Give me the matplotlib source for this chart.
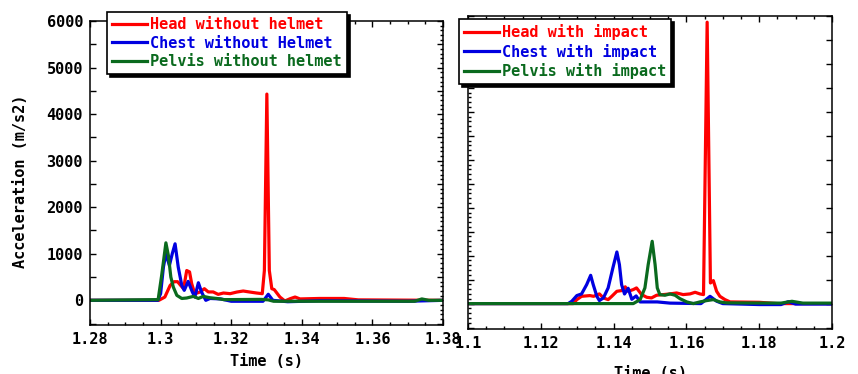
import matplotlib
matplotlib.use('Agg')
import matplotlib.pyplot as plt
from matplotlib.ticker import MultipleLocator, FuncFormatter

plt.rcParams['font.family'] = 'DejaVu Sans Mono'
plt.rcParams['font.weight'] = 'bold'
plt.rcParams['font.size'] = 11

RED = '#FF0000'
BLUE = '#0000E0'
GREEN = '#0A6A1E'

# ---- left panel: without helmet ----
head_wo_t = [1.28, 1.2995, 1.3012, 1.3027, 1.3038, 1.3048, 1.3058, 1.3065, 1.3074, 1.3082,
             1.3088, 1.3097, 1.3112, 1.3124, 1.3135, 1.3149, 1.3163, 1.3178, 1.3197, 1.3216,
             1.3234, 1.3253, 1.3272, 1.3288, 1.3294, 1.3301, 1.3308, 1.3315, 1.3322, 1.3338,
             1.3352, 1.3367, 1.3381, 1.3395, 1.345, 1.352, 1.356, 1.38]
head_wo_v = [0, 0, 70, 320, 400, 400, 310, 250, 640, 610,
             360, 140, 180, 250, 180, 180, 128, 157, 143, 178,
             200, 178, 157, 143, 640, 4430, 640, 250, 230, 71,
             -14, 35, 71, 30, 40, 40, 10, 0]

chest_wo_t = [1.28, 1.2992, 1.3000, 1.3008, 1.3015, 1.3025, 1.3033, 1.3041, 1.3050, 1.3060,
              1.3067, 1.3078, 1.3090, 1.3097, 1.3107, 1.3116, 1.3128, 1.3140, 1.317, 1.320,
              1.329, 1.3305, 1.3318, 1.336, 1.345, 1.37, 1.38]
chest_wo_v = [0, 0, 143, 716, 1000, 750, 1000, 1214, 713, 321,
              214, 407, 178, 71, 378, 178, 0, 40, 30, -20,
              -20, 130, 0, -30, -10, -20, 0]

pelvis_wo_t = [1.28, 1.2993, 1.3003, 1.3015, 1.3022, 1.3029, 1.3036, 1.3046, 1.3060, 1.3074,
               1.3093, 1.3107, 1.3121, 1.3140, 1.3159, 1.318, 1.3285, 1.3305, 1.332, 1.372,
               1.374, 1.376, 1.38]
pelvis_wo_v = [0, 15, 535, 1235, 963, 500, 285, 107, 40, 50,
               85, 40, 85, 55, 40, 15, 20, 10, -20, -20,
               30, 0, 0]

# ---- right panel: with impact ----
head_wi_t = [1.1, 1.1289, 1.1299, 1.1312, 1.1335, 1.1345, 1.1361, 1.1372, 1.1385, 1.1395,
             1.1409, 1.1422, 1.1432, 1.1440, 1.1454, 1.1463, 1.1477, 1.1491, 1.1504, 1.1518,
             1.1537, 1.1555, 1.1573, 1.1591, 1.1610, 1.1624, 1.1637, 1.1647, 1.1657, 1.1666,
             1.1674, 1.1683, 1.1692, 1.1706, 1.1720, 1.18, 1.185, 1.2]
head_wi_v = [0, 0, 83, 152, 167, 152, 202, 119, 83, 152,
             257, 271, 350, 257, 292, 327, 188, 132, 118, 174,
             188, 202, 222, 188, 202, 236, 202, 188, 5870, 430,
             480, 257, 152, 83, 35, 27, 0, 0]

chest_wi_t = [1.1, 1.1275, 1.1285, 1.1299, 1.1312, 1.1326, 1.1337, 1.1344, 1.1354, 1.1361,
              1.1372, 1.1385, 1.1398, 1.1409, 1.1416, 1.1422, 1.1430, 1.1440, 1.1450, 1.1462,
              1.1473, 1.152, 1.1555, 1.164, 1.1665, 1.1683, 1.170, 1.18, 1.186, 1.188,
              1.190, 1.2]
chest_wi_v = [0, 0, 48, 167, 202, 396, 590, 396, 152, 63,
              119, 327, 744, 1077, 812, 396, 200, 320, 90, 160,
              35, 35, 10, 0, 152, 50, 0, -20, -20, 40,
              -10, -10]

pelvis_wi_t = [1.1, 1.1454, 1.1473, 1.1486, 1.1495, 1.1506, 1.1514, 1.1520, 1.1527, 1.1541,
               1.1555, 1.1569, 1.1582, 1.1601, 1.1619, 1.1637, 1.1656, 1.1674, 1.1692, 1.1710,
               1.186, 1.189, 1.192, 1.2]
pelvis_wi_v = [0, 0, 83, 327, 812, 1300, 812, 327, 188, 174,
               202, 174, 104, 35, 0, 35, 63, 83, 35, 15,
               10, 48, 10, 10]

fig = plt.figure(figsize=(8.58, 3.74), dpi=100)
ax1 = fig.add_axes([90 / 858, 1 - 325 / 374, 353 / 858, 304 / 374])
ax2 = fig.add_axes([468 / 858, 1 - 329 / 374, 364 / 858, 313 / 374])

lw = 2.3


def style_axis(ax, xlim, label_y):
    ax.set_xlim(*xlim)
    ax.set_ylim(-530, 6000)
    ax.xaxis.set_major_locator(MultipleLocator(0.02))
    ax.xaxis.set_minor_locator(MultipleLocator(0.005))
    ax.xaxis.set_major_formatter(FuncFormatter(lambda v, p: f'{v:g}'))
    ax.yaxis.set_major_locator(MultipleLocator(500))
    ax.yaxis.set_minor_locator(MultipleLocator(100))
    ax.tick_params(which='both', direction='in', top=True, right=True, width=1.0)
    ax.tick_params(which='major', length=4, pad=5, labelsize=11)
    ax.tick_params(which='minor', length=2.5)
    for s in ax.spines.values():
        s.set_linewidth(1.1)
    ax.set_xlabel('Time (s)', fontsize=11, fontweight='bold')
    ax.xaxis.set_label_coords(0.5, label_y)


# left panel
ax1.plot(head_wo_t, head_wo_v, color=RED, lw=lw, label='Head without helmet')
ax1.plot(chest_wo_t, chest_wo_v, color=BLUE, lw=lw, label='Chest without Helmet')
ax1.plot(pelvis_wo_t, pelvis_wo_v, color=GREEN, lw=lw, label='Pelvis without helmet')
style_axis(ax1, (1.28, 1.38), -0.095)
ax1.yaxis.set_major_formatter(FuncFormatter(lambda v, p: f'{v:.0f}' if v % 1000 == 0 else ''))
ax1.tick_params(which='minor', axis='y', left=False)
ax1.set_ylabel('Acceleration (m/s2)', fontsize=11, fontweight='bold')
ax1.yaxis.set_label_coords(-0.176, 0.472)

# right panel
ax2.plot(head_wi_t, head_wi_v, color=RED, lw=lw, label='Head with impact')
ax2.plot(chest_wi_t, chest_wi_v, color=BLUE, lw=lw, label='Chest with impact')
ax2.plot(pelvis_wi_t, pelvis_wi_v, color=GREEN, lw=lw, label='Pelvis with impact')
style_axis(ax2, (1.1, 1.2), -0.118)
ax2.tick_params(axis='y', labelleft=False)
ax2.tick_params(which='minor', axis='y', right=False)

leg_kw = dict(loc='upper left', fontsize=11, frameon=True, fancybox=False,
              shadow={'color': 'black', 'alpha': 1.0}, edgecolor='black', framealpha=1,
              labelcolor='linecolor', handlelength=2.3, handletextpad=0.15,
              borderpad=0.35, labelspacing=0.22, borderaxespad=0)
l1 = ax1.legend(bbox_to_anchor=(107 / 858, 1 - 12 / 374), bbox_transform=fig.transFigure, **leg_kw)
l2 = ax2.legend(bbox_to_anchor=(459 / 858, 1 - 19 / 374), bbox_transform=fig.transFigure, **leg_kw)
for l in (l1, l2):
    l.get_frame().set_linewidth(1.2)
    for t in l.get_texts():
        t.set_fontweight('bold')

fig.savefig('out.png', dpi=100)
